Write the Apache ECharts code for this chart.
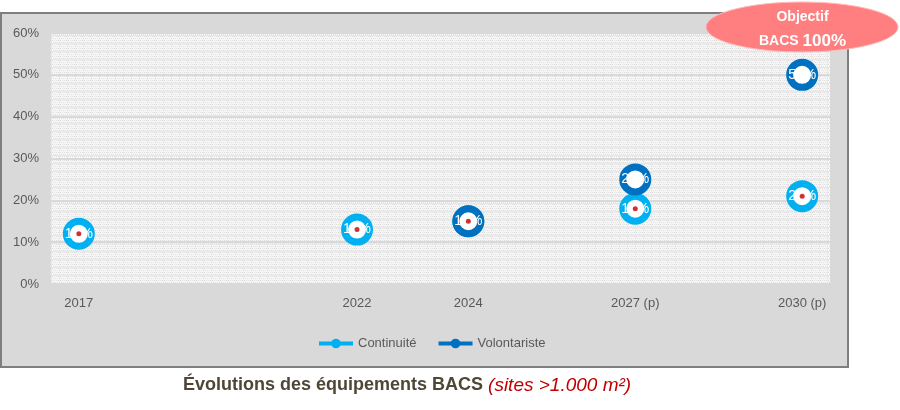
<!DOCTYPE html>
<html>
<head>
<meta charset="utf-8">
<script src="https://cdn.jsdelivr.net/npm/echarts@6/dist/echarts.min.js"></script>
<style>
  html, body { margin: 0; padding: 0; background: #fff; }
  #chart { width: 900px; height: 410px; }
</style>
</head>
<body>
<div id="chart"></div>
<script>
// données
var years = [2017, 2022, 2024, 2027, 2030];
var tickLabels = ['2017', '2022', '2024', '2027 (p)', '2030 (p)'];
var continuite = [0.12, 0.13, 0.15, 0.18, 0.21];
var volontariste = [null, null, 0.15, 0.25, 0.50];

function pairs(vals) {
  return years.map(function (y, i) { return [y, vals[i]]; }).filter(function (p) { return p[1] != null; });
}

// petit motif hachuré pour le fond de la zone de tracé
var pat = document.createElement('canvas');
pat.width = 8; pat.height = 8;
var pc = pat.getContext('2d');
pc.fillStyle = '#f7f7f7'; pc.fillRect(0, 0, 8, 8);
pc.fillStyle = '#e0e0e0';
for (var i = 0; i < 8; i += 2) {
  for (var j = 0; j < 8; j += 2) pc.fillRect(i + (j % 4 ? 1 : 0), j, 1, 1);
}
pc.fillStyle = '#e8e8e8';
pc.fillRect(3, 0, 1, 8); pc.fillRect(0, 3, 8, 1);

var font = 'Liberation Sans';
var chart = echarts.init(document.getElementById('chart'));

function ringSeries(name, vals, col, z) {
  return {
    name: name,
    type: 'line',
    data: pairs(vals),
    z: z,
    symbol: 'circle',
    symbolSize: 25,
    lineStyle: { opacity: 0 },
    itemStyle: { color: '#ffffff', borderColor: col, borderWidth: 7 },
    label: {
      show: true, position: 'inside', color: '#ffffff', fontSize: 14, fontFamily: font,
      align: 'center', verticalAlign: 'middle',
      formatter: function (p) { return Math.round(p.value[1] * 100) + '%'; }
    },
    emphasis: { disabled: true }
  };
}

var option = {
  animation: false,
  textStyle: { fontFamily: font },
  title: {
    left: 183, top: 376, padding: 0,
    text: '{a|Évolutions des équipements BACS} {b|(sites >1.000 m²)}',
    textStyle: {
      rich: {
        a: { fontFamily: font, fontSize: 18, fontWeight: 'bold', color: '#4f4637' },
        b: { fontFamily: font, fontSize: 19, fontWeight: 'normal', fontStyle: 'italic', color: '#c00000' }
      }
    }
  },
  graphic: [
    { type: 'rect', z: -100, shape: { x: 1, y: 13, width: 847, height: 354 },
      style: { fill: '#d9d9d9', stroke: '#7f7f7f', lineWidth: 2 } },
    { type: 'ellipse', z: 100, shape: { cx: 802, cy: 27, rx: 96, ry: 25 },
      style: { fill: '#ff7f80', stroke: '#fbb', lineWidth: 1 } },
    { type: 'text', z: 101, left: 759, top: 10,
      style: {
        text: '{c|Objectif}\n{c|BACS }{d|100%}', align: 'center',
        rich: {
          c: { fontFamily: font, fontSize: 14, fontWeight: 'bold', fill: '#ffffff', lineHeight: 24, align: 'center' },
          d: { fontFamily: font, fontSize: 17, fontWeight: 'bold', fill: '#ffffff', lineHeight: 24 }
        }
      } }
  ],
  grid: {
    left: 51, right: 70, top: 33, bottom: 126,
    show: true, borderWidth: 0,
    backgroundColor: { image: pat, repeat: 'repeat' }
  },
  legend: {
    left: 312, top: 332,
    itemWidth: 34, itemHeight: 12, itemGap: 20,
    textStyle: { color: '#595959', fontSize: 13, fontFamily: font },
    data: [
      { name: 'Continuité', lineStyle: { opacity: 1, width: 4, color: '#00b0f0' },
        itemStyle: { color: '#00b0f0', borderWidth: 0 } },
      { name: 'Volontariste', lineStyle: { opacity: 1, width: 4, color: '#0070c0' },
        itemStyle: { color: '#0070c0', borderWidth: 0 } }
    ]
  },
  xAxis: {
    type: 'value', min: 2016.5, max: 2030.5,
    splitLine: { show: false },
    axisLine: { show: false }, axisTick: { show: false },
    axisLabel: {
      customValues: years, color: '#595959', fontSize: 13, margin: 13,
      formatter: function (v) { return tickLabels[years.indexOf(Math.round(v))] || ''; }
    }
  },
  yAxis: {
    type: 'value', min: 0, max: 0.6, interval: 0.1,
    axisLine: { show: false }, axisTick: { show: false },
    splitLine: { lineStyle: { color: '#d9d9d9', width: 2 } },
    axisLabel: {
      color: '#595959', fontSize: 13, margin: 12,
      formatter: function (v) { return Math.round(v * 100) + '%'; }
    }
  },
  series: [
    ringSeries('Continuité', continuite, '#00b0f0', 3),
    ringSeries('Volontariste', volontariste, '#0070c0', 4),
    {
      name: 'pt', type: 'scatter', data: pairs(continuite), z: 6, silent: true,
      symbolSize: 5, itemStyle: { color: '#c00000' }
    }
  ]
};
chart.setOption(option);
</script>
</body>
</html>
